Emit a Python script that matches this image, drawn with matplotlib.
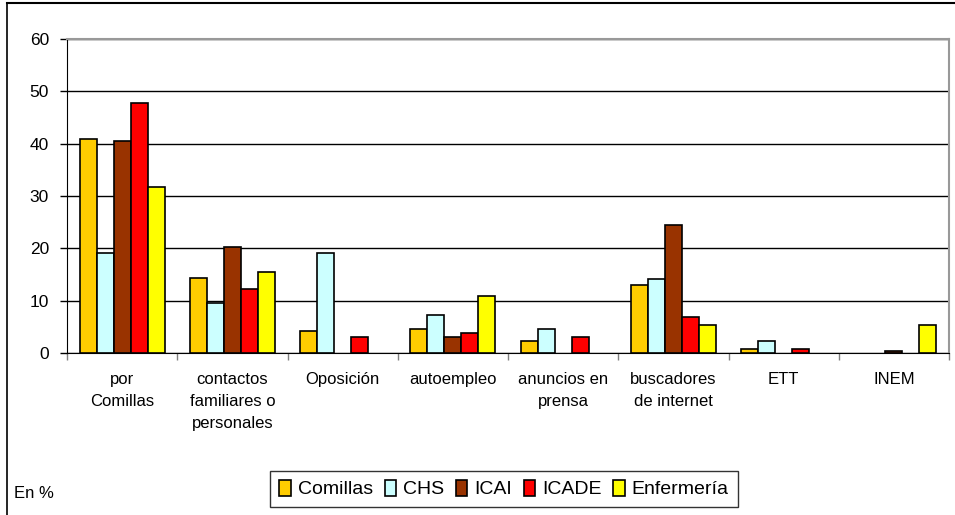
import matplotlib
matplotlib.use("Agg")
import matplotlib.pyplot as plt
import numpy as np
from matplotlib.lines import Line2D

plt.rcParams['font.family'] = ['Liberation Sans', 'DejaVu Sans']

categories = ["por\nComillas", "contactos\nfamiliares o\npersonales", "Oposición",
              "autoempleo", "anuncios en\nprensa", "buscadores\nde internet", "ETT", "INEM"]
series = ["Comillas", "CHS", "ICAI", "ICADE", "Enfermería"]
comillas = [40.8, 14.4, 4.2, 4.6, 2.3, 12.9, 0.8, 0]
chs = [19.1, 9.5, 19.1, 7.3, 4.6, 14.1, 2.2, 0]
icai = [40.5, 20.2, 0, 3.1, 0, 24.5, 0, 0.4]
icade = [47.7, 12.2, 3.1, 3.8, 3.1, 6.8, 0.8, 0]
enfermeria = [31.7, 15.5, 0, 10.8, 0, 5.3, 0, 5.3]
values = [comillas, chs, icai, icade, enfermeria]
colors = ["#FFCC00", "#CCFFFF", "#993300", "#FF0000", "#FFFF00"]

fig = plt.figure(figsize=(9.55, 5.15), dpi=100)
ax = fig.add_axes([67/955, 1-353/515, (949-67)/955, (353-39)/515])

x = np.arange(len(categories))
w = 0.154
for i, (name, vals, c) in enumerate(zip(series, values, colors)):
    v = np.array(vals)
    mask = v > 0
    ax.bar(x[mask] + (i - 2) * w, v[mask], width=w, color=c, edgecolor="black",
           linewidth=1.2, label=name, zorder=3)

ax.set_xlim(-0.5, len(categories) - 0.5)
ax.set_ylim(0, 60)
ax.set_yticks(range(0, 61, 10))
ax.yaxis.grid(True, color="black", linewidth=1.0, zorder=0)
ax.set_axisbelow(True)

ax.set_xticks(np.arange(-0.5, len(categories), 1.0))
ax.set_xticklabels([])
ax.tick_params(axis='x', direction='out', length=5, color='#808080', width=1)
ax.tick_params(axis='y', direction='out', length=5, width=1, labelsize=12.5, pad=8)
for xi, lab in zip(x, categories):
    ax.text(xi, -3.7, lab, ha='center', va='top', fontsize=12, linespacing=1.55,
            transform=ax.transData)

for s in ['top', 'right']:
    ax.spines[s].set_color('#999999')
    ax.spines[s].set_linewidth(1.5)
ax.spines['left'].set_color('black')
ax.spines['bottom'].set_color('black')

leg = fig.legend(loc='center', bbox_to_anchor=(504/955, 1-489/515), ncol=5,
                 fontsize=14, frameon=True, fancybox=False, edgecolor='black',
                 handlelength=0.6, handleheight=0.9, handletextpad=0.35,
                 columnspacing=0.6, borderpad=0.45)
leg.get_frame().set_linewidth(1.0)

fig.text(14/955, 1-493/515, "En %", fontsize=12, va='center', ha='left')

fig.add_artist(Line2D([7/955, 7/955], [0, 1-3/515], color='black', linewidth=1.2,
                      transform=fig.transFigure))
fig.add_artist(Line2D([7/955, 1], [1-3/515, 1-3/515], color='black', linewidth=1.5,
                      transform=fig.transFigure))

fig.savefig("out.png", dpi=100)
